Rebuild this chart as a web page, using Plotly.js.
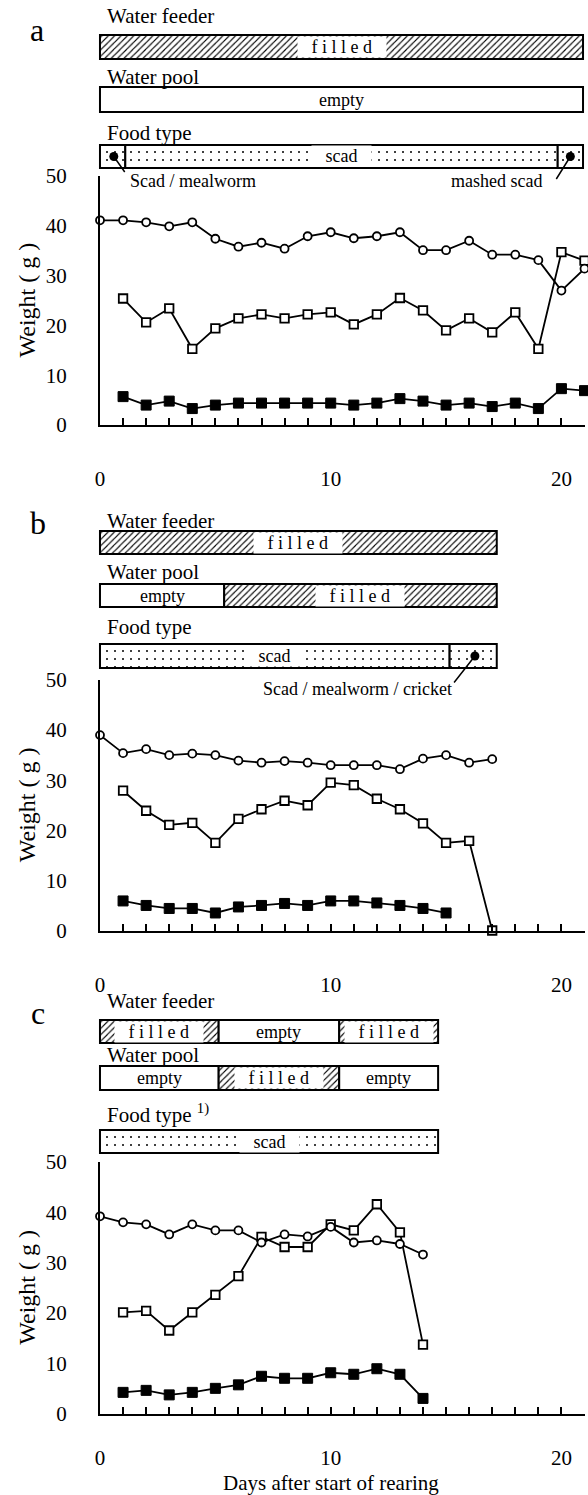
<!DOCTYPE html>
<html><head><meta charset="utf-8">
<script src="https://cdn.plot.ly/plotly-3.0.1.min.js"></script>
<style>html,body{margin:0;padding:0;background:#fff}</style>
</head><body><div id="chart" style="width:588px;height:1495px"></div>
<script>
// ---------------- DATA ----------------
// Panel a
const daysCircleA = [0,1,2,3,4,5,6,7,8,9,10,11,12,13,14,15,16,17,18,19,20,21];
const circleA = [41.1,41.1,40.7,39.9,40.7,37.4,35.8,36.6,35.4,37.9,38.7,37.5,37.9,38.7,35.1,35.1,37.0,34.2,34.2,33.1,27.0,31.4];
const daysOpenA = [1,2,3,4,5,6,7,8,9,10,11,12,13,14,15,16,17,18,19,20,21];
const openSqA = [25.4,20.6,23.4,15.3,19.4,21.4,22.2,21.4,22.2,22.6,20.2,22.2,25.5,23.0,19.0,21.4,18.6,22.6,15.3,34.7,33.0];
const daysFilledA = [1,2,3,4,5,6,7,8,9,10,11,12,13,14,15,16,17,18,19,20,21];
const filledSqA = [5.7,4.0,4.8,3.3,4.0,4.4,4.4,4.4,4.4,4.4,4.0,4.4,5.3,4.8,4.0,4.4,3.7,4.4,3.3,7.3,6.9];
// Panel b
const daysCircleB = [0,1,2,3,4,5,6,7,8,9,10,11,12,13,14,15,16,17];
const circleB = [39.0,35.4,36.2,35.0,35.3,35.0,33.9,33.5,33.8,33.5,33.0,33.0,33.0,32.2,34.3,35.0,33.5,34.2];
const daysOpenB = [1,2,3,4,5,6,7,8,9,10,11,12,13,14,15,16,17];
const openSqB = [27.9,23.9,21.1,21.5,17.5,22.3,24.2,25.9,25.0,29.5,29.0,26.3,24.2,21.4,17.5,17.9,0];
const daysFilledB = [1,2,3,4,5,6,7,8,9,10,11,12,13,14,15];
const filledSqB = [5.9,5.0,4.4,4.4,3.5,4.7,5.0,5.4,5.0,5.9,5.9,5.5,5.0,4.4,3.5];
// Panel c
const daysCircleC = [0,1,2,3,4,5,6,7,8,9,10,11,12,13,14];
const circleC = [39.2,38.0,37.6,35.6,37.6,36.4,36.4,34.0,35.6,35.2,37.1,34.0,34.4,33.7,31.6];
const daysOpenC = [1,2,3,4,5,6,7,8,9,10,11,12,13,14];
const openSqC = [20.1,20.4,16.5,20.1,23.6,27.3,35.1,33.1,33.1,37.6,36.4,41.6,36.0,13.7];
const daysFilledC = [1,2,3,4,5,6,7,8,9,10,11,12,13,14];
const filledSqC = [4.2,4.6,3.7,4.2,5.0,5.7,7.4,7.0,7.0,8.1,7.8,8.9,7.8,3.0];

// Condition bars (start day, end day, state)
const rowNames = ['Water feeder','Water pool','Food type'];
const feederStartA = [0], feederEndA = [21], feederStateA = ['filled'];
const poolStartA = [0], poolEndA = [21], poolStateA = ['empty'];
const foodStartA = [0,1.1,19.9], foodEndA = [1.1,19.9,21], foodStateA = ['mix','scad','mashed'];
const feederStartB = [0], feederEndB = [17.25], feederStateB = ['filled'];
const poolStartB = [0,5.4], poolEndB = [5.4,17.25], poolStateB = ['empty','filled'];
const foodStartB = [0,15.2], foodEndB = [15.2,17.25], foodStateB = ['scad','mix'];
const feederStartC = [0,5.16,10.4], feederEndC = [5.16,10.4,14.7], feederStateC = ['filled','empty','filled'];
const poolStartC = [0,5.16,10.4], poolEndC = [5.16,10.4,14.7], poolStateC = ['empty','filled','empty'];
const foodStartC = [0], foodEndC = [14.7], foodStateC = ['scad'];
// food notes (day of dot, text)
const noteDaysA = [0.6,20.45], noteTextA = ['Scad / mealworm','mashed scad'];
const noteDaysB = [16.3], noteTextB = ['Scad / mealworm / cricket'];
const noteDaysC = [], noteTextC = [];
const xTickVals = [0,10,20];
const yTickVals = [0,10,20,30,40,50];

// ---------------- LAYOUT GEOMETRY (pixels) ----------------
const W = 588, H = 1495;
const fx = p => p / W, fy = p => 1 - p / H;
const X0 = 100, XEND = 584.5, XMAX = 21;
const pxDay = (XEND - X0) / XMAX;
const FONT = '"Liberation Serif", "Times New Roman", serif';

const panels = [
  {letter:'a', letterPos:[37,30], yTop:176, yBot:425, xStandoff:34,
   rows:[[35,59],[87,112],[145,168]], labelY:[16,77,133],
   segs:[[feederStartA,feederEndA,feederStateA],[poolStartA,poolEndA,poolStateA],[foodStartA,foodEndA,foodStateA]],
   notes:[noteDaysA,noteTextA], notePos:[[193,181],[496,181]], noteTail:[[12,17],[-15,24]],
   circ:[daysCircleA,circleA], open:[daysOpenA,openSqA], fill:[daysFilledA,filledSqA], foodLabel:'Food type'},
  {letter:'b', letterPos:[38,523], yTop:680, yBot:930.5, xStandoff:34,
   rows:[[531,554],[584,607],[644,668]], labelY:[521,572,627],
   segs:[[feederStartB,feederEndB,feederStateB],[poolStartB,poolEndB,poolStateB],[foodStartB,foodEndB,foodStateB]],
   notes:[noteDaysB,noteTextB], notePos:[[357,689]], noteTail:[[-22,28]],
   circ:[daysCircleB,circleB], open:[daysOpenB,openSqB], fill:[daysFilledB,filledSqB], foodLabel:'Food type'},
  {letter:'c', letterPos:[38,1013], yTop:1162, yBot:1413.5, xStandoff:24,
   rows:[[1020,1043],[1066,1090],[1130,1153]], labelY:[1001,1055,1113],
   segs:[[feederStartC,feederEndC,feederStateC],[poolStartC,poolEndC,poolStateC],[foodStartC,foodEndC,foodStateC]],
   notes:[noteDaysC,noteTextC], notePos:[], noteTail:[],
   circ:[daysCircleC,circleC], open:[daysOpenC,openSqC], fill:[daysFilledC,filledSqC], foodLabel:'Food type <sup>1)</sup>'}
];

const segText = {filled:'\u00a0\u00a0\u00a0f i l l e d\u00a0\u00a0\u00a0', empty:'empty', scad:'\u00a0\u00a0\u00a0scad\u00a0\u00a0\u00a0'};

const traces = [];
const layout = {
  width: W, height: H, margin:{l:0,r:0,t:0,b:0},
  paper_bgcolor:'white', plot_bgcolor:'rgba(0,0,0,0)',
  showlegend:false, barmode:'overlay',
  font:{family:FONT, color:'black', size:21},
  annotations:[]
};
const PAD = 5;

panels.forEach((p, i) => {
  const xn = i === 0 ? '' : String(i+1);
  const xr = 'x' + xn, yr = 'y' + xn;
  layout['xaxis' + xn] = {
    domain:[fx(X0), fx(XEND)], range:[0, XMAX], anchor: yr,
    showline:true, linewidth:2, linecolor:'black', mirror:false,
    showgrid:false, zeroline:false,
    tickmode:'array', tickvals:xTickVals, ticks:'inside', ticklen:7, tickwidth:2, tickcolor:'black',
    minor:{tick0:0, dtick:1, ticks:'inside', ticklen:7, tickwidth:2, tickcolor:'black', showgrid:false},
    tickfont:{family:FONT, size:21, color:'black'}, ticklabelstandoff:p.xStandoff, fixedrange:true
  };
  layout['yaxis' + xn] = {
    domain:[fy(p.yBot), fy(p.yTop)], range:[0, 50], anchor: xr,
    showline:true, linewidth:2, linecolor:'black',
    showgrid:false, zeroline:false,
    tickmode:'array', tickvals:yTickVals, ticks:'',
    tickfont:{family:FONT, size:21, color:'black'}, ticklabelstandoff:27, fixedrange:true
  };
  // data traces
  const common = {type:'scatter', mode:'lines+markers', xaxis:xr, yaxis:yr, cliponaxis:false,
                  line:{color:'black', width:1.8}, hoverinfo:'skip'};
  traces.push(Object.assign({}, common, {x:p.fill[0], y:p.fill[1],
     marker:{symbol:'square', size:10, color:'black', line:{color:'black', width:1}}}));
  traces.push(Object.assign({}, common, {x:p.open[0], y:p.open[1],
     marker:{symbol:'square', size:8.5, color:'white', line:{color:'black', width:1.8}}}));
  traces.push(Object.assign({}, common, {x:p.circ[0], y:p.circ[1],
     marker:{symbol:'circle', size:8, color:'white', line:{color:'black', width:1.8}}}));

  // header x axis (same scale, padded)
  const hxn = String(4 + i), hx = 'x' + hxn;
  layout['xaxis' + hxn] = {
    domain:[fx(X0 - PAD), fx(XEND + PAD)], range:[-PAD/pxDay, XMAX + PAD/pxDay],
    visible:false, fixedrange:true, anchor:'y' + (7 + 3*i)
  };
  p.rows.forEach((r, k) => {
    const yn = String(7 + 3*i + k), ry = 'y' + yn;
    const top = r[0], bot = r[1];
    layout['yaxis' + yn] = {
      domain:[fy(bot + PAD), fy(top - PAD)], range:[-0.5, 0.5], type:'category',
      categoryarray:[rowNames[k]], visible:false, fixedrange:true, anchor:hx
    };
    const [starts, ends, states] = p.segs[k];
    const isFood = k === 2;
    traces.push({
      type:'bar', orientation:'h', xaxis:hx, yaxis:ry,
      y: starts.map(() => rowNames[k]), base: starts, x: starts.map((s, j) => ends[j] - s),
      width: (bot - top) / (bot - top + 2*PAD),
      marker:{color:'white', line:{color:'black', width:2},
        pattern:{shape: states.map(s => isFood ? '.' : (s === 'filled' ? '/' : '')),
                 fgcolor:'black', bgcolor:'white', fillmode:'replace',
                 size: isFood ? 8 : 4.5, solidity: isFood ? 0.05 : 0.25}},
      hoverinfo:'skip'
    });
    states.forEach((s, j) => {
      if (!segText[s]) return;
      layout.annotations.push({
        xref:hx, yref:ry, x:(starts[j] + ends[j]) / 2, y:rowNames[k],
        text:segText[s], showarrow:false, borderpad:0,
        bgcolor:(isFood || s === 'filled') ? 'white' : 'rgba(0,0,0,0)',
        font:{family:FONT, size:18, color:'black'}, xanchor:'center', yanchor:'middle'
      });
    });
    // row label
    layout.annotations.push({
      xref:'paper', yref:'paper', x:fx(105), y:fy(p.labelY[k]), xanchor:'left', yanchor:'middle',
      text: isFood ? p.foodLabel : rowNames[k], showarrow:false,
      font:{family:FONT, size:21, color:'black'}
    });
    if (isFood) {
      const [nd, nt] = p.notes;
      nd.forEach((d, j) => {
        layout.annotations.push({
          xref:hx, yref:ry, x:d, y:rowNames[k], text:'', showarrow:true,
          arrowhead:6, arrowsize:1.5, arrowwidth:1.5, arrowcolor:'black',
          ax:p.noteTail[j][0], ay:p.noteTail[j][1], standoff:0
        });
        layout.annotations.push({
          xref:'paper', yref:'paper', x:fx(p.notePos[j][0]), y:fy(p.notePos[j][1]),
          xanchor:'center', yanchor:'middle', text:nt[j], showarrow:false,
          font:{family:FONT, size:18, color:'black'}
        });
      });
    }
  });
  // panel letter
  layout.annotations.push({xref:'paper', yref:'paper', x:fx(p.letterPos[0]), y:fy(p.letterPos[1]),
    xanchor:'center', yanchor:'middle', text:p.letter, showarrow:false,
    font:{family:FONT, size:32, color:'black'}});
  // y title
  layout.annotations.push({xref:'paper', yref:'paper', x:fx(27), y:fy((p.yTop + p.yBot)/2),
    xanchor:'center', yanchor:'middle', text:'Weight ( g )', textangle:-90, showarrow:false,
    font:{family:FONT, size:24, color:'black'}});
});

layout.annotations.push({xref:'paper', yref:'paper', x:fx(331), y:fy(1483), xanchor:'center', yanchor:'middle',
  text:'Days after start of rearing', showarrow:false, font:{family:FONT, size:21, color:'black'}});

Plotly.newPlot('chart', traces, layout, {displayModeBar:false, staticPlot:true});
</script></body></html>
